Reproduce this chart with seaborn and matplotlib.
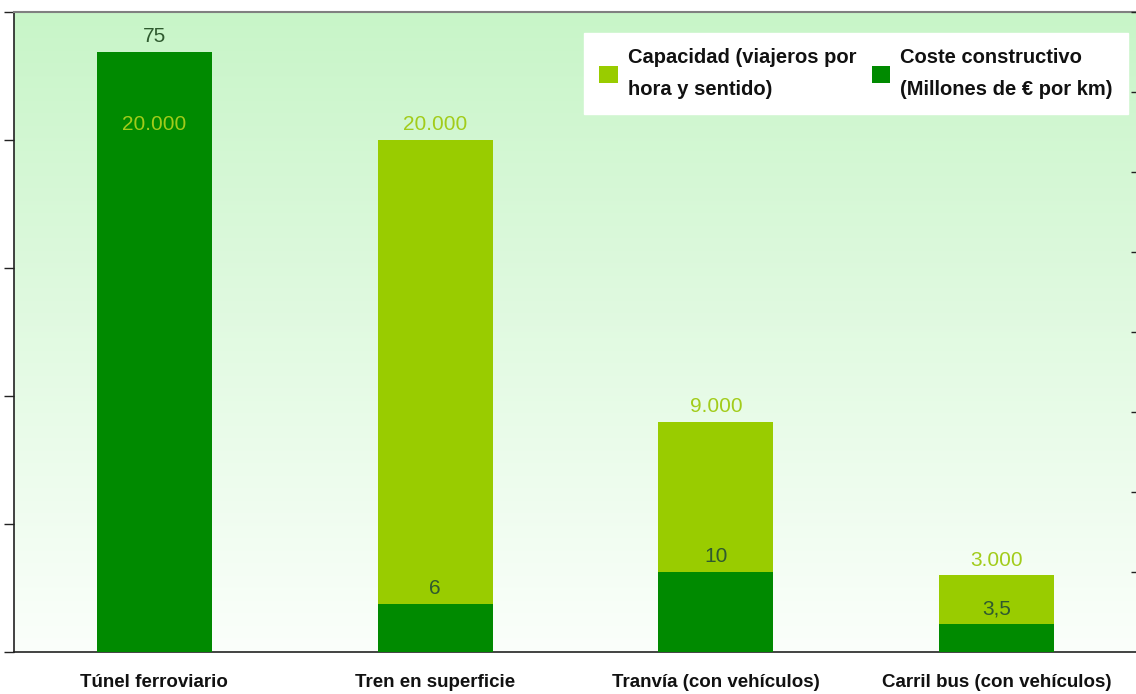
import numpy as np
import pandas as pd
import matplotlib
matplotlib.use("Agg")
import matplotlib.pyplot as plt
from matplotlib.colors import LinearSegmentedColormap
from matplotlib.patches import Patch
import seaborn as sns

# Datos
categorias = ['Túnel ferroviario', 'Tren en superficie', 'Tranvía (con vehículos)', 'Carril bus (con vehículos)']
capacidad = [20000, 20000, 9000, 3000]          # viajeros por hora y sentido
coste = [75, 6, 10, 3.5]                         # millones de € por km
etiquetas_capacidad = ['20.000', '20.000', '9.000', '3.000']
etiquetas_coste = ['75', '6', '10', '3,5']

col_claro = '#99CC00'
col_oscuro = '#008A00'
col_txt_claro = '#A2CC1A'
col_txt_oscuro = '#2F5A2F'

sns.set_style('white')
plt.rcParams['font.family'] = ['Liberation Sans', 'DejaVu Sans']

df = pd.DataFrame({'tipo': categorias, 'capacidad': capacidad, 'coste': coste})

fig = plt.figure(figsize=(11.36, 6.94), dpi=100)
ax = fig.add_axes([14 / 1136, 42 / 694, 1123 / 1136, 640 / 694])

# fondo degradado verde
cmap = LinearSegmentedColormap.from_list('fondo', ['#FBFFFB', '#C8F5C8'])
grad = np.linspace(0, 1, 256).reshape(-1, 1)
ax.imshow(grad, extent=[0, 1, 0, 1], transform=ax.transAxes, aspect='auto',
          cmap=cmap, origin='lower', zorder=0)

sns.barplot(data=df, x='tipo', y='capacidad', color=col_claro, saturation=1,
            width=0.41, ax=ax, zorder=2, edgecolor='none', linewidth=0)
ax2 = ax.twinx()
sns.barplot(data=df, x='tipo', y='coste', color=col_oscuro, saturation=1,
            width=0.41, ax=ax2, zorder=2, edgecolor='none', linewidth=0)

ax.set_xlim(-0.5, 3.5)
ax.set_ylim(0, 25000)
ax2.set_ylim(0, 80)
ax.set_yticks(np.arange(0, 25001, 5000))
ax2.set_yticks(np.arange(10, 81, 10))
ax.set_yticklabels([])
ax2.set_yticklabels([])
ax.set_xlabel('')
ax.set_ylabel('')
ax2.set_ylabel('')

# etiquetas del eje x centradas, marcas entre categorias
ax.set_xticks(range(len(categorias)))
ax.set_xticklabels(categorias, fontsize=13.5, fontweight='bold', color='#111111')
ax.set_xticks(np.arange(-0.5, len(categorias), 1), minor=True)
ax.tick_params(axis='x', which='major', length=0, pad=16)
ax.tick_params(axis='x', which='minor', length=7, direction='out', width=1, color='#222222')
ax.tick_params(axis='y', length=7, direction='out', width=1, color='#222222')
ax2.tick_params(axis='y', length=4, direction='in', width=1, color='#222222')

for s in ['left', 'bottom']:
    ax.spines[s].set_color('#222222')
    ax.spines[s].set_linewidth(1.2)
ax.spines['top'].set_color('#808080')
ax.spines['top'].set_linewidth(1.5)
ax2.spines['top'].set_visible(False)
ax.spines['right'].set_visible(False)
ax2.spines['right'].set_visible(False)
ax2.spines['left'].set_visible(False)
ax2.spines['bottom'].set_visible(False)

# etiquetas de valores (todas por encima de las barras oscuras)
for i in range(len(categorias)):
    ax2.annotate(etiquetas_capacidad[i], xy=(i, capacidad[i]), xycoords=ax.transData,
                 xytext=(0, 4), textcoords='offset points', ha='center', va='bottom',
                 fontsize=15, color=col_txt_claro, zorder=5)
    ax2.annotate(etiquetas_coste[i], xy=(i, coste[i]), xycoords=ax2.transData,
                 xytext=(0, 4), textcoords='offset points', ha='center', va='bottom',
                 fontsize=15, color=col_txt_oscuro, zorder=5)

handles = [Patch(facecolor=col_claro, edgecolor='none'),
           Patch(facecolor=col_oscuro, edgecolor='none')]
nombres = ['Capacidad (viajeros por\nhora y sentido)',
           'Coste constructivo\n(Millones de € por km)']
leg = ax2.legend(handles, nombres, loc='upper right', bbox_to_anchor=(0.992, 0.967),
                 ncol=2, frameon=True, fancybox=False, framealpha=1,
                 prop={'size': 14.5, 'weight': 'bold'},
                 handlelength=0.9, handleheight=0.9, handletextpad=0.5,
                 columnspacing=0.8, borderaxespad=0, borderpad=0.75)
leg.get_frame().set_facecolor('white')
leg.get_frame().set_edgecolor('white')
for t in leg.get_texts():
    t.set_color('#111111')
    t.set_linespacing(1.85)

fig.savefig('out.png', dpi=100)
